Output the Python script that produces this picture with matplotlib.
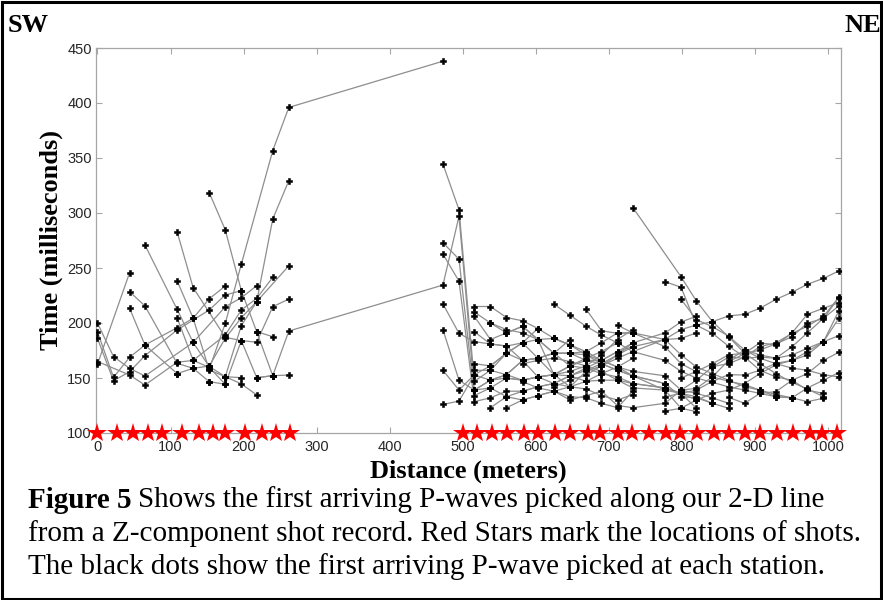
import matplotlib
matplotlib.use("Agg")
import matplotlib.pyplot as plt
from matplotlib.patches import Rectangle

# Receiver stations along the line (m); stations at 87 m and 755 m are dead
stations_m = [0, 22, 44, 65, 109, 131, 153, 175, 197, 218, 240, 262,
              473, 495, 516, 538, 560, 582, 603, 625, 647, 669, 690, 712, 733,
              777, 799, 820, 842, 864, 886, 907, 929, 951, 972, 994, 1015]

# Shot locations (m)
shots_m = [0, 27, 49, 69, 89, 116, 139, 158, 175, 202, 225, 245, 264,
           500, 520, 540, 561, 584, 603, 627, 647, 672, 688, 712, 732, 755,
           778, 798, 821, 844, 864, 886, 907, 930, 952, 975, 992, 1012]

# First-break picks (ms) per shot gather as (first station index, picks);
# None marks a station without a pick
sw_gathers = [
    (0, [162.5, None, 245.7]),
    (0, [200, 169.4, 158.8, 151.8, None, 182.3, None, 214.8, 223, 233.9]),
    (0, [192, 150.6, 168.8, 180, 195.7, 204.3, 222, 233.6]),
    (0, [186, 147.5, 155.7, 170.3, 193.6, None, 211.8, 225.5, 229.4]),
    (0, [165, None, 152.7, 143.6, 164.3, 166, None, 189.1, 211.8, 222.4, 241.5]),
    (4, [154, 158.8, 160.9, 186.1, 204.8, 219.4, None, 252]),
    (6, [146.7, 144.3, 184, 182.5, 214.8, 221.8]),
    (2, [228.5, 215.5, 163.4, 158.8, 146.7]),
    (2, [213.4, 180, 154]),
    (3, [270.9, 212.5, 182.3, 160.5, 151.2, 150.3]),
    (4, [283, 232.2, None, 187, 184, 150.3, 152.1]),
    (4, [238.5, 204.3, 157.3, 151.2, 144.6, 134.6]),
    (4, [205, 166, 159.7, 144.3]),
    (6, [318.5, 284.6, 229.4, 192.1, 152.1, 152.7]),
    (7, [151.2, 197.6, 219.4, 294.5, 329.4]),
    (6, [158, 199.7, 253.6, None, 356.7, 396, 438]),
    (9, [150.3, 152.1, 192.7, 234.5, 297, 139, 148, 153, 166, 168, 172.5, 185]),
    (9, [192.1, 187.6]),
]

ne_gathers = [
    (12, [344.5, 303, 147, 157, 172.5, 182, 195]),
    (12, [273, 258, 134, 141, 150, 148, 151, 153, 161, 168, 174, 182]),
    (12, [262.7, 238, 128.5, 132, 138, 138, 142, 145, 152, 157, 163, 171, 178.5]),
    (12, [217.3, 190.6, 183, 181, 179, 166, 151, 145, 142, 140, 134, 130, 135]),
    (12, [194, 148, 139, 141, 133, 130, 134, 138, 133, 132, 127, 123, 138]),
    (12, [157, 139, 153, 161, 172.5, 182, 185, 186, 180]),
    (12, [126, 129, 152.8, 148, 153, 166, 168, 172.5, 172.5, 174, 182, 191, 191]),
    (14, [215, 215, 205, 202, 195, 186, 180, 174, 166, 160, 156, 152, 139, 136, 132, 127]),
    (14, [210, 200, 194, 191, 185, 172.5, 172.5, 171, 163, 157, 152, 145, 133, 132, 127, 122.5]),
    (14, [206, 185, 191, 197, 185, 153, 161, 159, 154, 151, 145, 141, 136, 122.5]),
    (14, [192, 181, 179, 182, 168, 153, 152, 147, 148, 148, 141, 139, 122.5, 119.4]),
    (14, [163, 161, 172.5, 166, 168, 172.5, 161, 166, 166, 174, 178.5, 185, 186, 191]),
    (14, [157, 157, 153, 148, 151, 153, 142, 156, 161, 171, 182, 191, 201, 206]),
    (14, [139, 148, 150, 148, 151, 153, 156, 161, 171, 185, 194]),
    (15, [123, 133, 138, 142, 145, 152, 159, 166, 174, 182]),
    (16, [123, 130, 134, 138, 142, 147, 154, 160, 168]),
    (15, [200, 191, 197, 185, 172.5, 172.5, 166, 163, 157, 152, 145]),
    (19, [186, 180, 171, 166, 160, 152, 139, 136, 133, 127]),
    (17, [163, 166, 168, 165, 161, 156, 148, 145, 141, 136, 130]),
    (19, [142, 148, 152.7, 161, 168, 174, 185.2, 194, 198.2, 201.2, 206.4,
          207.9, 213.4, 221.5, 228, 235.2, 240.6, 247.3]),
    (17, [146.7, 141, 138, 130, 134, 138, 125, 123, 127, 139, 148, 160, 169,
          168, 169, 168, 171, 177, 183, 188.5]),
    (19, [217, 207, 197, 189, 182, 174, 166, 156, 150, 146, 142, 139, 136, 133,
          132, 128.5, 131.6]),
    (21, [212.5, 193, 190.6, 191, 178.5, 163, 155.7, 151, 147, 144, 139, 135, 132]),
    (23, [198, 191, 185, 171, 160, 154, 148, 142, 139, 133, 132, 141, 148, 155]),
    (24, [305, None, 242, 220, 201.2, 187.6, 172.5, 163, 154, 146, 140, 133]),
    (25, [237.6, 232.5, 198, 190.6, 179, 169, 157, 151, 148, 139, 136]),
    (26, [221.6, 203, 196.7, 188, 175.5, 168, 163, 159, 157, 153, 151]),
    (25, [120, 122.5, 130, 136, 139, 145, 154, 162, 166, 174, 183, 204.3]),
    (25, [133, 136, 139, 147, 153, 152.7, 157, 163.4, 166, 171, 183, 211]),
    (26, [139, 140.6, 151, 166, 175.5, 171, 168, 178.5, 191, 204.3, 215.5]),
    (26, [150, 156, 163, 171, 172.5, 182, 180, 191, 208, 213.4, 218.5]),
    (28, [160.4, 163, 169, 178.5, 182, 190.6, 197, 206, 223.4]),
    (29, [165, 172, 175.5, 181, 187.6, 200, 204, 223]),
    (29, [132.4, 127, 136, 137.6, 148, 154, 166, 173.4]),
]

# Figure and axes geometry (pixels)
W, H = 883, 600
fig = plt.figure(figsize=(W / 100, H / 100), dpi=100)
ax = fig.add_axes([96 / W, 1 - 433 / H, (841 - 96) / W, (433 - 48) / H])

for start, picks in sw_gathers + ne_gathers:
    pairs = [(stations_m[start + k], t) for k, t in enumerate(picks)
             if t is not None and start + k < len(stations_m)]
    xs = [p[0] for p in pairs]
    ts = [p[1] for p in pairs]
    ax.plot(xs, ts, color="#8e8e8e", lw=0.9, zorder=2)
    ax.plot(xs, ts, ls="none", marker="P", ms=4.8, color="black",
            markeredgecolor="black", markeredgewidth=0.4, zorder=3)

ax.plot(shots_m, [100] * len(shots_m), ls="none", marker="*", ms=15,
        color="#ff0000", markeredgewidth=0, clip_on=False, zorder=5)

ax.set_xlim(-2, 1018)
ax.set_ylim(100, 450)
ax.set_xticks(range(0, 1001, 100))
ax.set_yticks(range(100, 451, 50))
for s in ax.spines.values():
    s.set_color("#a6a6a6")
    s.set_linewidth(0.9)
ax.tick_params(direction="in", length=4, width=0.8, color="#a6a6a6",
               top=True, right=True, labelsize=10.5, labelcolor="#262626",
               pad=3)
ax.tick_params(axis="x", pad=5)
for lab in ax.get_xticklabels() + ax.get_yticklabels():
    lab.set_family("Liberation Sans")

ax.set_xlabel("Distance (meters)", family="Liberation Serif",
              fontweight="bold", fontsize=19, labelpad=4)
ax.set_ylabel("Time (milliseconds)", family="Liberation Serif",
              fontweight="bold", fontsize=19, labelpad=3)

# Direction markers
fig.text(8 / W, 1 - 25 / H, "SW", family="Liberation Serif",
         fontweight="bold", fontsize=19, ha="left", va="center")
fig.text(881 / W, 1 - 25 / H, "NE", family="Liberation Serif",
         fontweight="bold", fontsize=19, ha="right", va="center")

# Caption
cap_x = 28 / W
bold = fig.text(cap_x, 1 - 500 / H, "Figure 5", family="Liberation Serif",
                fontweight="bold", fontsize=21, va="center")
fig.canvas.draw()
bb = bold.get_window_extent()
fig.text(bb.x1 / W + 6 / W, 1 - 500 / H,
         "Shows the first arriving P-waves picked along our 2-D line",
         family="Liberation Serif", fontsize=21, va="center")
fig.text(cap_x, 1 - 534 / H,
         "from a Z-component shot record. Red Stars mark the locations of shots.",
         family="Liberation Serif", fontsize=21, va="center")
fig.text(cap_x, 1 - 567 / H,
         "The black dots show the first arriving P-wave picked at each station.",
         family="Liberation Serif", fontsize=21, va="center")

# Frame around the whole figure
fig.patches.append(Rectangle((0.002, 0.002), 0.996, 0.995,
                             transform=fig.transFigure, fill=False,
                             edgecolor="black", lw=2.2))

fig.savefig("out.png", dpi=100)
